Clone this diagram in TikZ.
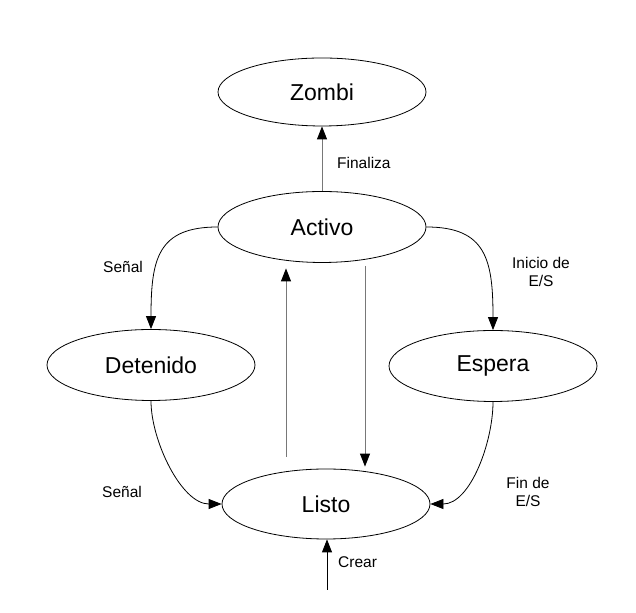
\documentclass[tikz,border=0pt]{standalone}
\usepackage{fontspec}
\setmainfont{Liberation Sans}
\usepackage{tikz}
\usetikzlibrary{shapes.geometric, arrows.meta}
\definecolor{mygray}{RGB}{120,120,120}
\tikzset{
  estado/.style={ellipse, draw=black, fill=white,
    minimum width=208pt, minimum height=71pt, inner sep=0pt,
    font=\fontsize{23}{27}\selectfont, line width=0.8pt},
  etiqueta/.style={align=center, inner sep=0pt,
    font=\fontsize{15.5}{18}\selectfont},
  arrow/.style={-{Triangle[length=13pt,width=10pt,color=black]},
    line width=0.8pt, color=black},
  grayarrow/.style={-{Triangle[length=13pt,width=10pt,color=black]},
    line width=1pt, color=mygray}
}

\begin{document}
\begin{tikzpicture}[x=1pt, y=1pt]
  \useasboundingbox (0,0) rectangle (636,612);

  % States
  \node[estado, minimum height=68pt] (zombi) at (322,520) {Zombi};
  \node[estado] (activo) at (322,385) {Activo};
  \node[estado] (detenido) at (151,247) {Detenido};
  \node[estado] (espera) at (493,246) {Espera};
  \node[estado, minimum height=70pt] (listo) at (326,108) {Listo};

  % Free ends of the straight lines
  \coordinate (subida) at (286,155);
  \coordinate (bajada) at (365,346);
  \coordinate (crear) at (327,22);

  % Straight transitions
  \draw[grayarrow] (activo) -- (zombi);
  \draw[grayarrow, shorten >=5.5pt] (subida) -- (subida |- activo.south);
  \draw[grayarrow, shorten >=2pt] (bajada) -- (bajada |- listo.north);
  \draw[arrow] (crear) -- (crear |- listo.south);

  % Curved transitions
  \draw[arrow] (activo.west) to[out=180, in=90, out distance=60pt, in distance=70pt] (detenido.north);
  \draw[arrow] (activo.east) to[out=0, in=90, out distance=60pt, in distance=70pt] (espera.north);
  \draw[arrow] (detenido.south) to[out=270, in=180, out distance=40pt, in distance=40pt] (listo.west);
  \draw[arrow] (espera.south) to[out=270, in=0, out distance=40pt, in distance=40pt] (listo.east);

  % Labels
  \node[etiqueta, anchor=west] (lfinaliza) at (337,449) {Finaliza};
  \node[etiqueta] (lsenal) at (123,345) {Señal};
  \node[etiqueta] (linicio) at (541,340) {Inicio de\\E/S};
  \node[etiqueta] (lsenaldos) at (122,120) {Señal};
  \node[etiqueta] (lfin) at (528,120) {Fin de\\E/S};
  \node[etiqueta, anchor=west] (lcrear) at (338,50) {Crear};
\end{tikzpicture}
\end{document}
